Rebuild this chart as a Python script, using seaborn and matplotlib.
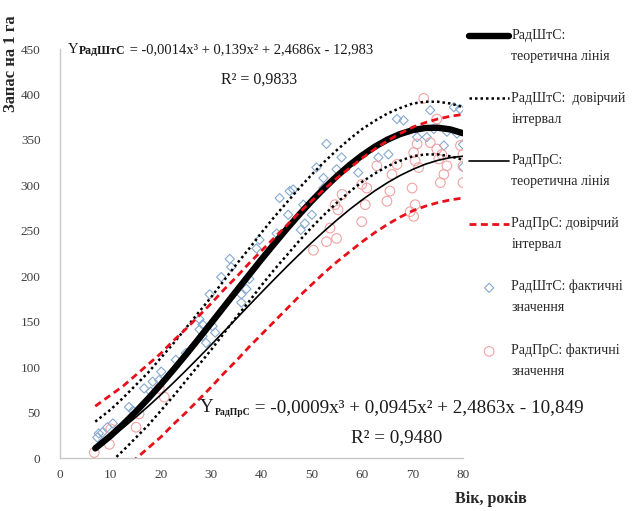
import matplotlib
matplotlib.use("Agg")
import matplotlib.pyplot as plt
import seaborn as sns
import pandas as pd

# age grid (years) for the fitted lines and intervals
ages = [7, 10, 12.5, 15, 17.5, 20, 22.5, 25, 27.5, 30, 32.5, 35, 37.5, 40, 42.5,
        45, 47.5, 50, 52.5, 55, 57.5, 60, 62.5, 65, 67.5, 70, 72.5, 75, 77.5, 80]

# РадШтС: theoretical line and confidence interval (m3 per ha)
sht_fit = [10.6, 24.2, 36.9, 50.6, 65.3, 80.8, 97.0, 113.7, 130.9, 148.4,
           166.0, 183.7, 201.2, 218.6, 235.5, 252.0, 267.9, 283.0, 297.2, 310.3,
           322.4, 333.1, 342.5, 350.3, 356.4, 360.7, 363.1, 363.4, 361.5, 357.3]
sht_upper = [40, 53, 66, 80, 94, 110, 126, 143, 160, 177, 195, 213, 230, 248, 265,
             281, 297, 312, 326, 339, 351, 362, 371, 379, 385, 390, 392, 392, 390, 386]
sht_lower = [-18, -5, 8, 22, 36, 52, 68, 85, 102, 119, 137, 155, 172, 190, 207,
             223, 239, 254, 268, 281, 293, 304, 313, 321, 327, 332, 334, 334, 332, 328]

# РадПрС: theoretical line and confidence interval
pr_fit = [10.9, 22.6, 33.2, 44.7, 56.8, 69.5, 82.7, 96.3, 110.3, 124.5,
          138.9, 153.3, 167.8, 182.2, 196.4, 210.4, 224.0, 237.2, 249.9, 262.0,
          273.5, 284.1, 294.0, 302.9, 310.8, 317.5, 323.2, 327.5, 330.5, 332.0]
pr_upper = [57, 69, 79, 91, 103, 115, 129, 142, 156, 170, 185, 199, 214, 228, 242,
            256, 270, 283, 296, 308, 319, 330, 340, 349, 357, 364, 369, 373, 376, 378]
pr_lower = [-35, -23, -13, -1, 11, 23, 37, 50, 64, 78, 93, 107, 122, 136, 150,
            164, 178, 191, 204, 216, 227, 238, 248, 257, 265, 272, 277, 281, 284, 286]

# actual values, РадШтС
sht_x = [7.4, 7.7, 8.4, 9.4, 10.5, 13.7, 14.5, 16.7, 18.0, 18.4, 19.7, 20.1, 23.0, 25.0,
         27.7, 27.7, 28.3, 28.3, 29.0, 29.7, 30.3, 30.8, 32.0, 33.7, 34.0, 36.0, 36.0,
         37.0, 37.6, 39.0, 39.6, 43.0, 43.6, 45.3, 45.6, 46.3, 47.8, 48.3, 48.6, 50.0,
         50.9, 52.3, 52.3, 52.9, 54.9, 55.9, 59.2, 63.2, 65.2, 66.9, 68.2, 70.9, 72.8,
         73.5, 74.2, 76.2, 76.8, 78.2, 78.8, 79.4, 80.0, 80.0]
sht_y = [22.6, 27, 28, 33.8, 38, 56, 52, 76.5, 73, 84, 85.7, 95, 108, 115.5,
         141.4, 152.6, 134, 147, 126.6, 180, 145, 138, 199, 219, 210, 180, 171,
         186, 197, 230.5, 240, 247, 286, 267.6, 293.6, 295.4, 251, 278.7, 258, 267.6,
         319.6, 308, 297, 345.6, 317.7, 330.7, 314, 330.7, 334, 373, 371.5, 353, 353,
         382.7, 362, 343.8, 359, 386, 357, 384, 345, 320]

# actual values, РадПрС
pr_x = [6.8, 9.8, 10.1, 15.1, 15.7, 19.7, 20.7, 50.3, 52.9, 53.6, 54.6, 54.9, 55.2, 56.0,
        59.9, 59.9, 60.6, 60.9, 62.9, 64.9, 65.5, 65.9, 66.9, 69.5, 69.9, 70.2, 70.2,
        70.5, 70.5, 70.9, 71.2, 72.2, 73.5, 74.8, 74.8, 75.2, 75.5, 75.8, 76.2, 76.8,
        79.5, 80.0, 80.0, 80.0]
pr_y = [6, 15, 32, 33.8, 48.6, 76.5, 67, 228.6, 238, 253, 278.7, 241.6, 273, 290,
        301, 260, 278.7, 297, 321.5, 282.5, 293.7, 312, 323, 271, 297, 336, 265.8,
        327, 278.7, 345.6, 319.6, 395.7, 347, 373, 340, 329, 303, 334, 312, 321.5,
        343.8, 334, 321, 303]

x_ticks = [0, 10, 20, 30, 40, 50, 60, 70, 80]
y_ticks = [0, 50, 100, 150, 200, 250, 300, 350, 400, 450]

lbl_sht_fit = "\nРадШтС:\nтеоретична лінія"
lbl_sht_ci = "\nРадШтС:  довірчий\nінтервал"
lbl_pr_fit = "\nРадПрС:\nтеоретична лінія"
lbl_pr_ci = "\nРадПрС: довірчий\nінтервал"
lbl_sht_pts = "\nРадШтС: фактичні\nзначення"
lbl_pr_pts = "\nРадПрС: фактичні\nзначення"

sns.set_style("white")
plt.rcParams["font.family"] = ["Liberation Serif", "DejaVu Serif"]

fig = plt.figure(figsize=(6.38, 5.11), dpi=100)
ax = fig.add_axes([60 / 638, 53 / 511, 403 / 638, 409 / 511])

pts_sht = pd.DataFrame({"x": sht_x, "y": sht_y})
pts_pr = pd.DataFrame({"x": pr_x, "y": pr_y})
sns.scatterplot(data=pts_sht, x="x", y="y", ax=ax, marker="D", s=22,
                facecolor="none", edgecolor="#86a9d2", linewidth=0.8,
                label=lbl_sht_pts, zorder=2)
sns.scatterplot(data=pts_pr, x="x", y="y", ax=ax, marker="o", s=48,
                facecolor="none", edgecolor="#f0a3a3", linewidth=0.8,
                label=lbl_pr_pts, zorder=2)

sns.lineplot(x=ages, y=sht_fit, ax=ax, color="black", linewidth=4.6,
             label=lbl_sht_fit, zorder=3)
sns.lineplot(x=ages, y=pr_fit, ax=ax, color="black", linewidth=1.2,
             label=lbl_pr_fit, zorder=3)
sns.lineplot(x=ages, y=sht_upper, ax=ax, color="black", linewidth=1.8,
             linestyle=(0, (1, 1.2)), label=lbl_sht_ci, zorder=4)
sns.lineplot(x=ages, y=sht_lower, ax=ax, color="black", linewidth=1.8,
             linestyle=(0, (1, 1.2)), zorder=4)
sns.lineplot(x=ages, y=pr_upper, ax=ax, color="#e8111a", linewidth=2,
             linestyle=(0, (2.5, 1.6)), label=lbl_pr_ci, zorder=5)
sns.lineplot(x=ages, y=pr_lower, ax=ax, color="#e8111a", linewidth=2,
             linestyle=(0, (2.5, 1.6)), zorder=5)

ax.set_xlim(0, 80)
ax.set_ylim(0, 450)
ax.set_xticks(x_ticks)
ax.set_yticks(y_ticks)
ax.set_xlabel("")
ax.set_ylabel("")
ax.tick_params(axis="x", length=0, pad=8, labelsize=9.5, labelcolor="#404040")
ax.tick_params(axis="y", length=0, pad=14, labelsize=9.5, labelcolor="#404040")
for side in ["top", "right"]:
    ax.spines[side].set_visible(False)
for side in ["left", "bottom"]:
    ax.spines[side].set_color("#c8c8c8")
    ax.spines[side].set_linewidth(1.0)

# legend outside on the right, handle aligned with the first line of each label
handles, labels = ax.get_legend_handles_labels()
if ax.get_legend() is not None:
    ax.get_legend().remove()
by_label = dict(zip(labels, handles))
order = [lbl_sht_fit, lbl_sht_ci, lbl_pr_fit, lbl_pr_ci, lbl_sht_pts, lbl_pr_pts]
leg = fig.legend([by_label[k] for k in order], order, loc="upper left",
                 bbox_to_anchor=(469 / 638, 1 - 8 / 511), frameon=False,
                 fontsize=10, handlelength=2.9, handletextpad=0.15,
                 borderpad=0, borderaxespad=0, labelspacing=0.55)
for t in leg.get_texts():
    t.set_linespacing(1.8)
    t.set_color("#262626")

# trend line equations
txt = "#1a1a1a"
y1 = fig.text(68 / 638, 1 - 53 / 511, "Y", fontsize=10.5, color=txt, va="baseline")
s1 = ax.annotate("РадШтС", xy=(1, 0), xycoords=y1, xytext=(0.5, -1),
                 textcoords="offset points", fontsize=8.5, fontweight="bold",
                 color=txt, va="bottom", annotation_clip=False)
ax.annotate(" = -0,0014x³ + 0,139x² + 2,4686x - 12,983", xy=(1, 0),
            xycoords=(s1, y1), fontsize=10.5, color=txt, va="bottom",
            annotation_clip=False)
fig.text(259 / 638, 1 - 84 / 511, "R² = 0,9833", fontsize=11.5, color=txt,
         ha="center", va="baseline")

y2 = fig.text(200 / 638, 1 - 412 / 511, "Y", fontsize=13.8, color=txt, va="baseline")
s2 = ax.annotate("РадПрС", xy=(1, 0), xycoords=y2, xytext=(0.5, -1),
                 textcoords="offset points", fontsize=7, fontweight="bold",
                 color=txt, va="bottom", annotation_clip=False)
ax.annotate(" = -0,0009x³ + 0,0945x² + 2,4863x - 10,849", xy=(1, 0),
            xycoords=(s2, y2), fontsize=13.8, color=txt, va="bottom",
            annotation_clip=False)
fig.text(397 / 638, 1 - 442 / 511, "R² = 0,9480", fontsize=13.8, color=txt,
         ha="center", va="baseline")

# axis titles
fig.text(11 / 638, 1 - 112 / 511, "Запас на 1 га", rotation=90, fontsize=12,
         fontweight="bold", color="#262626", ha="center", va="bottom")
fig.text(455 / 638, 1 - 503 / 511, "Вік, років", fontsize=11.5,
         fontweight="bold", color="#262626", ha="left", va="baseline")

fig.savefig("out.png", dpi=100)
